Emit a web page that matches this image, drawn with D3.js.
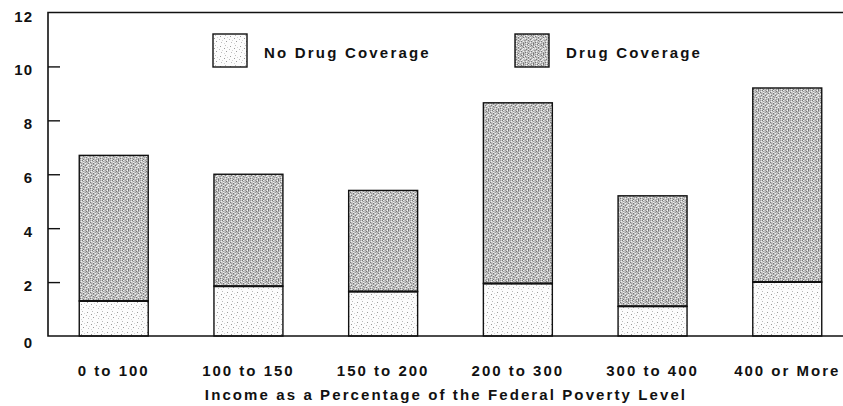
<!DOCTYPE html>
<html lang="en">
<head>
  <meta charset="UTF-8">
  <title>Drug Coverage by Income</title>
  <script src="https://d3js.org/d3.v7.min.js"></script>
  <style>
    body {
      margin: 0;
      background-color: #fff;
    }
    svg text {
      font-family: "Liberation Sans", Arial, sans-serif;
      font-weight: bold;
      fill: #111;
    }
    .frame {
      fill: none;
      stroke: #111;
      stroke-width: 1.6;
    }
    .bar {
      stroke: #111;
      stroke-width: 1.4;
    }
  </style>
</head>
<body>
  <svg id="chart"></svg>

  <script>
    // data
    const categories = ["0 to 100", "100 to 150", "150 to 200", "200 to 300", "300 to 400", "400 or More"];
    const noDrug = [1.3, 1.85, 1.65, 1.95, 1.1, 2.0];
    const drug = [5.4, 4.15, 3.75, 6.7, 4.1, 7.2];   // stacked on top of noDrug
    const yTicks = [0, 2, 4, 6, 8, 10, 12];
    const seriesNames = ["No Drug Coverage", "Drug Coverage"];

    const width = 843;
    const height = 406;

    const svg = d3.select("#chart")
      .attr("width", width)
      .attr("height", height);

    // stipple textures (hand made tiles, just for the look)
    const defs = svg.append("defs");
    const darkTile = [
      "2.13.2.31.",
      ".3.2..1.2.",
      "1..3.2.2.3",
      ".2.1.3..1.",
      "3..2..2.3.",
      ".1.3.1.3..",
      "2..1..3..2",
      ".3..2.1.3.",
      "1.2..3..2.",
      ".3.1..2.1."
    ];
    const lightTile = [
      "..........",
      "..2.......",
      ".......1..",
      "....3.....",
      ".1........",
      "......2...",
      ".........3",
      "...1......",
      "........2.",
      ".3........"
    ];
    const darkShades = { ".": "#c4c4c4", "1": "#777777", "2": "#9c9c9c", "3": "#f2f2f2" };
    const lightShades = { ".": "#fcfcfc", "1": "#9a9a9a", "2": "#bdbdbd", "3": "#d6d6d6" };

    function makePattern(id, tile, shades) {
      const p = defs.append("pattern")
        .attr("id", id)
        .attr("patternUnits", "userSpaceOnUse")
        .attr("width", tile[0].length)
        .attr("height", tile.length);
      tile.forEach((row, j) => {
        row.split("").forEach((c, i) => {
          p.append("rect")
            .attr("x", i).attr("y", j)
            .attr("width", 1).attr("height", 1)
            .attr("fill", shades[c]);
        });
      });
    }
    makePattern("darkDots", darkTile, darkShades);
    makePattern("lightDots", lightTile, lightShades);

    const fills = ["url(#lightDots)", "url(#darkDots)"];

    const x = d3.scaleBand()
      .domain(categories)
      .range([48, 853])
      .paddingInner(0.488)
      .paddingOuter(0.232);

    const y = d3.scaleLinear()
      .domain([0, 12])
      .range([336, 12.5]);

    // bars
    const rows = categories.map((c, i) => ({ cat: c, noDrug: noDrug[i], drug: drug[i] }));
    const stack = d3.stack().keys(["noDrug", "drug"])(rows);

    stack.forEach((layer, k) => {
      svg.append("g")
        .selectAll("rect")
        .data(layer)
        .join("rect")
        .attr("class", "bar")
        .attr("x", d => x(d.data.cat))
        .attr("y", d => y(d[1]))
        .attr("width", x.bandwidth())
        .attr("height", d => y(d[0]) - y(d[1]))
        .attr("fill", fills[k]);
    });

    // divider between the two segments a little heavier
    svg.append("g")
      .selectAll("line")
      .data(rows)
      .join("line")
      .attr("x1", d => x(d.cat))
      .attr("x2", d => x(d.cat) + x.bandwidth())
      .attr("y1", d => y(d.noDrug))
      .attr("y2", d => y(d.noDrug))
      .attr("stroke", "#111")
      .attr("stroke-width", 2);

    // frame: top, left and bottom lines
    svg.append("path")
      .attr("class", "frame")
      .attr("d", `M${width},${y(12)}H48V${y(0)}H${width}`);

    // y axis
    const yAxis = d3.axisRight(y)
      .tickValues(yTicks.filter(v => v > 0 && v < 12))
      .tickSize(12)
      .tickFormat("");
    svg.append("g")
      .attr("transform", "translate(48,0)")
      .call(yAxis)
      .call(g => g.select(".domain").remove())
      .call(g => g.selectAll(".tick line").attr("stroke", "#111").attr("stroke-width", 1.4));

    svg.append("g")
      .selectAll("text")
      .data(yTicks)
      .join("text")
      .attr("x", 33)
      .attr("y", d => y(d) + (d === 0 ? 12 : 9))
      .attr("text-anchor", "end")
      .style("font-size", "15px")
      .style("letter-spacing", "1px")
      .text(d => d);

    // x labels
    svg.append("g")
      .selectAll("text")
      .data(categories)
      .join("text")
      .attr("x", d => x(d) + x.bandwidth() / 2)
      .attr("y", 376)
      .attr("text-anchor", "middle")
      .style("font-size", "15px")
      .style("letter-spacing", "2px")
      .text(d => d);

    svg.append("text")
      .attr("x", 446)
      .attr("y", 400)
      .attr("text-anchor", "middle")
      .style("font-size", "15px")
      .style("letter-spacing", "2.1px")
      .text("Income as a Percentage of the Federal Poverty Level");

    // legend
    const legendX = [213, 515];
    const legend = svg.append("g")
      .selectAll("g")
      .data(seriesNames)
      .join("g")
      .attr("transform", (d, i) => `translate(${legendX[i]},34)`);

    legend.append("rect")
      .attr("width", 34)
      .attr("height", 33)
      .attr("fill", (d, i) => fills[i])
      .attr("stroke", "#111")
      .attr("stroke-width", 1.4);

    legend.append("text")
      .attr("x", 51)
      .attr("y", 24)
      .style("font-size", "15px")
      .style("letter-spacing", "2.2px")
      .text(d => d);
  </script>
</body>
</html>
